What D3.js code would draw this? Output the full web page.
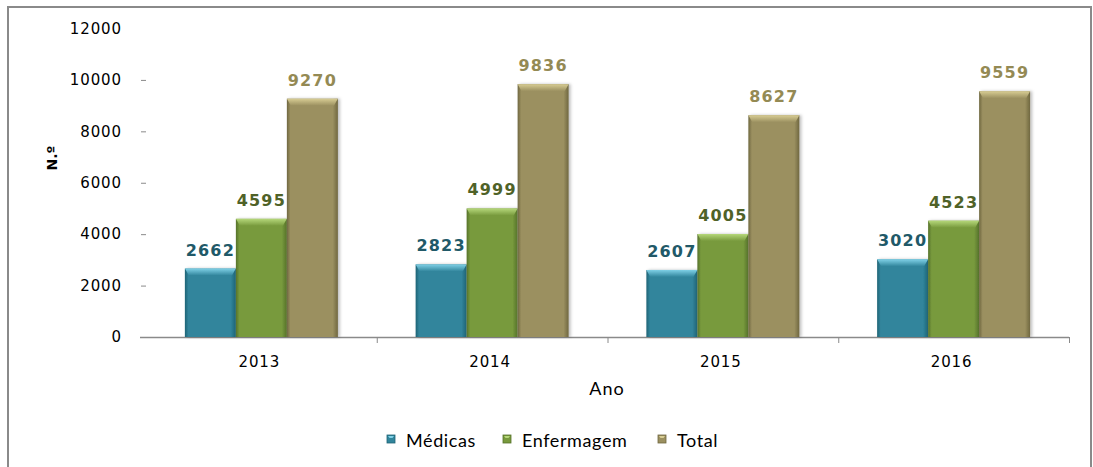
<!DOCTYPE html>
<html>
<head>
<meta charset="utf-8">
<script src="https://cdn.jsdelivr.net/npm/d3@7"></script>
<style>
  body { margin: 0; background: #fff; }
  svg { display: block; }
</style>
</head>
<body>
<svg id="chart" width="1093" height="467"></svg>
<script>
const years = ['2013', '2014', '2015', '2016'];
const seriesNames = ['Médicas', 'Enfermagem', 'Total'];
const medicas = [2662, 2823, 2607, 3020];
const enfermagem = [4595, 4999, 4005, 4523];
const total = [9270, 9836, 8627, 9559];
const yTicks = [0, 2000, 4000, 6000, 8000, 10000, 12000];

const seriesValues = [medicas, enfermagem, total];
const fills = ['#31859c', '#789a3d', '#9b9060'];
const lights = ['#7fd0e6', '#b5d77a', '#d8cd94'];
const darks = ['#1f6375', '#55722a', '#6f6740'];
const labelColors = ['#215968', '#4f6228', '#948a54'];

const svg = d3.select('#chart');

// outer frame
svg.append('rect')
  .attr('x', 8).attr('y', 7)
  .attr('width', 1083).attr('height', 470)
  .attr('fill', 'none')
  .attr('stroke', '#8a8a8a')
  .attr('stroke-width', 2);

const x0 = d3.scaleBand().domain(years).range([146, 1069]).paddingInner(0.337).paddingOuter(0.1685);
const x1 = d3.scaleBand().domain(seriesNames).range([0, x0.bandwidth()]);
const y = d3.scaleLinear().domain([0, 12000]).range([337, 28.5]);

// gradients for the bevelled look
const defs = svg.append('defs');
seriesNames.forEach((s, i) => {
  const g = defs.append('linearGradient').attr('id', 'side' + i)
    .attr('x1', 0).attr('x2', 1).attr('y1', 0).attr('y2', 0);
  g.append('stop').attr('offset', 0).attr('stop-color', darks[i]);
  g.append('stop').attr('offset', 0.07).attr('stop-color', fills[i]);
  g.append('stop').attr('offset', 0.9).attr('stop-color', fills[i]);
  g.append('stop').attr('offset', 1).attr('stop-color', darks[i]);
  const t = defs.append('linearGradient').attr('id', 'top' + i)
    .attr('x1', 0).attr('x2', 0).attr('y1', 0).attr('y2', 1);
  t.append('stop').attr('offset', 0).attr('stop-color', lights[i]);
  t.append('stop').attr('offset', 1).attr('stop-color', fills[i]);
});
const shadow = defs.append('filter').attr('id', 'shadow')
  .attr('x', '-20%').attr('y', '-5%').attr('width', '140%').attr('height', '110%');
shadow.append('feDropShadow').attr('dx', 2).attr('dy', 0).attr('stdDeviation', 1.5)
  .attr('flood-color', '#000').attr('flood-opacity', 0.25);

const plainFont = 'DejaVu Sans, Verdana, sans-serif';

// y axis: tick marks only, no line
const yAxis = svg.append('g').attr('transform', 'translate(146,0)')
  .call(d3.axisLeft(y).tickValues(yTicks).tickFormat(d3.format('d')).tickSize(5).tickPadding(19));
yAxis.select('.domain').remove();
yAxis.selectAll('.tick line').attr('stroke', '#8a8a8a');
yAxis.selectAll('.tick').filter(d => d === 0 || d === 12000).select('line').remove();
yAxis.selectAll('text')
  .style('font-family', plainFont)
  .style('font-size', '15px')
  .attr('letter-spacing', 0.9)
  .attr('fill', '#000');

// x axis with boundary ticks
const xAxis = svg.append('g');
xAxis.append('line')
  .attr('x1', 140).attr('x2', 1069).attr('y1', 337.5).attr('y2', 337.5)
  .attr('stroke', '#8a8a8a').attr('stroke-width', 1.3);
xAxis.selectAll('line.tk').data(years.slice(1).concat(['end'])).join('line')
  .attr('class', 'tk')
  .attr('x1', (d, i) => x0(years[0]) - x0.step() * x0.paddingOuter() + x0.step() * (i + 1) + 0.5)
  .attr('x2', (d, i) => x0(years[0]) - x0.step() * x0.paddingOuter() + x0.step() * (i + 1) + 0.5)
  .attr('y1', 337).attr('y2', 343)
  .attr('stroke', '#8a8a8a');
xAxis.selectAll('text').data(years).join('text')
  .attr('x', d => x0(d) + x0.bandwidth() / 2 - 2)
  .attr('y', 367)
  .attr('text-anchor', 'middle')
  .style('font-family', plainFont)
  .style('font-size', '15px')
  .attr('letter-spacing', 0.9)
  .text(d => d);

// bars
const groups = svg.selectAll('g.year').data(years).join('g')
  .attr('class', 'year')
  .attr('transform', d => `translate(${x0(d)},0)`);

groups.each((yr, yi, nodes) => {
  const g = d3.select(nodes[yi]);
  const vals = seriesValues.map(arr => arr[yi]);
  const bar = g.selectAll('g.bar').data(vals).join('g').attr('class', 'bar');
  bar.append('rect')
    .attr('x', (d, i) => x1(seriesNames[i]))
    .attr('y', d => y(d))
    .attr('width', x1.bandwidth())
    .attr('height', d => y(0) - y(d))
    .attr('fill', (d, i) => `url(#side${i})`)
    .attr('filter', 'url(#shadow)');
  // top bevel
  bar.append('path')
    .attr('d', (d, i) => {
      const bx = x1(seriesNames[i]);
      const by = y(d);
      const w = x1.bandwidth();
      return `M${bx},${by} L${bx + w},${by} L${bx + w - 4},${by + 7} L${bx + 4},${by + 7} Z`;
    })
    .attr('fill', (d, i) => `url(#top${i})`);
  bar.append('text')
    .attr('x', (d, i) => x1(seriesNames[i]) + x1.bandwidth() / 2)
    .attr('y', d => y(d) - 13)
    .attr('text-anchor', 'middle')
    .style('font-family', plainFont)
    .style('font-weight', 'bold')
    .style('font-size', '16px')
    .attr('letter-spacing', 1.2)
    .attr('fill', (d, i) => labelColors[i])
    .text(d => d);
});

// axis titles
svg.append('text')
  .attr('transform', 'translate(57,158) rotate(-90)')
  .attr('text-anchor', 'middle')
  .style('font-family', plainFont)
  .style('font-weight', 'bold')
  .style('font-size', '14px')
  .text('N.º');

svg.append('text')
  .attr('x', 607).attr('y', 395)
  .attr('text-anchor', 'middle')
  .style('font-family', 'Lato, Open Sans, sans-serif')
  .style('font-size', '18px')
  .attr('letter-spacing', 1)
  .text('Ano');

// legend
const legendX = [387, 503, 658];
const legend = svg.selectAll('g.legend').data(seriesNames).join('g')
  .attr('class', 'legend')
  .attr('transform', (d, i) => `translate(${legendX[i]},435)`);
legend.append('rect')
  .attr('width', 8).attr('height', 8)
  .attr('fill', (d, i) => fills[i])
  .attr('stroke', (d, i) => darks[i]).attr('stroke-width', 0.8);
legend.append('path')
  .attr('d', 'M1,1 L7,1 L5.5,3 L2.5,3 Z')
  .attr('fill', (d, i) => lights[i]);
legend.append('text')
  .attr('x', 19).attr('y', 12)
  .style('font-family', 'Lato, Open Sans, sans-serif')
  .style('font-size', '18px')
  .attr('letter-spacing', 0.6)
  .attr('fill', '#000')
  .text(d => d);
</script>
</body>
</html>
